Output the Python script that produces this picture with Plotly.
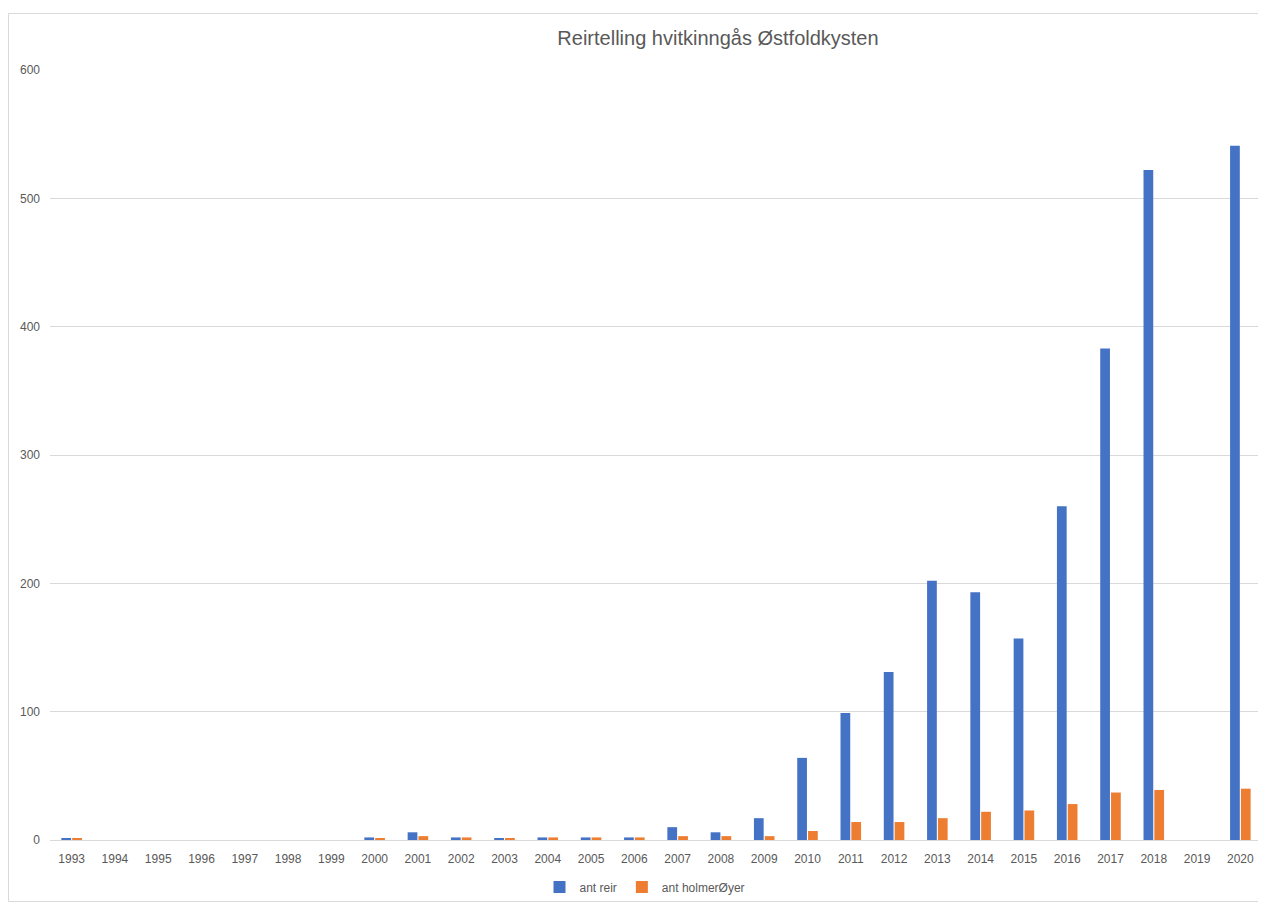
import plotly.graph_objects as go

years = [str(y) for y in range(1993, 2021)]
ant_reir = [1, 0, 0, 0, 0, 0, 0, 2, 6, 2, 1, 2, 2, 2, 10, 6, 17, 64, 99, 131, 202, 193, 157, 260, 383, 522, 0, 541]
ant_holmer = [1, 0, 0, 0, 0, 0, 0, 1, 3, 2, 1, 2, 2, 2, 3, 3, 3, 7, 14, 14, 17, 22, 23, 28, 37, 39, 0, 40]
y_ticks = [0, 100, 200, 300, 400, 500, 600]

# page body has an 8px margin; work in figure coordinates = reference - 8
OFF = 8
W, H = 1266 - OFF, 902 - OFF
L, T = 50 - OFF, 70 - OFF
R = W - (1262 - OFF)
B = H - (840 - OFF)
pw, ph = W - L - R, H - T - B

font = "Liberation Sans, Arial, sans-serif"
grey = "#595959"

def px(x):
    return (x - OFF - L) / pw

def py(y):
    return (840 - y) / ph

fig = go.Figure()
fig.add_trace(go.Bar(x=years, y=ant_reir, name="ant reir", marker=dict(color="#4472C4", line=dict(width=0))))
fig.add_trace(go.Bar(x=years, y=ant_holmer, name="ant holmerØyer", marker=dict(color="#ED7D31", line=dict(width=0))))

fig.update_layout(
    width=W, height=H,
    margin=dict(l=L, r=R, t=T, b=B, autoexpand=False),
    paper_bgcolor="white", plot_bgcolor="white",
    barmode="group", bargap=0.5, bargroupgap=0.1,
    font=dict(family=font, size=12, color=grey),
    title=dict(text="Reirtelling hvitkinngås Østfoldkysten", font=dict(family=font, size=20, color=grey),
               xref="paper", x=px(718), xanchor="center", yref="container", y=1 - (38 - OFF) / H, yanchor="middle"),
    legend=dict(orientation="h", xanchor="center", x=px(645), yanchor="middle", y=py(887),
                font=dict(size=12, color=grey), bgcolor="rgba(0,0,0,0)", traceorder="normal"),
    xaxis=dict(type="category", showgrid=False, showline=True, linecolor="#d9d9d9", linewidth=1,
               ticks="", tickfont=dict(size=12, color=grey), tickangle=0, ticklabelstandoff=8),
    yaxis=dict(range=[0, 600], tickvals=y_ticks, showgrid=True, gridcolor="#d9d9d9", gridwidth=1,
               zeroline=False, showline=False, ticks="", tickfont=dict(size=12, color=grey), ticklabelstandoff=9),
    shapes=[dict(type="rect", xref="paper", yref="paper",
                 x0=px(8.5), x1=px(1265.5), y0=py(901.5), y1=py(13.5),
                 line=dict(color="#d9d9d9", width=1), fillcolor="rgba(0,0,0,0)", layer="below")],
)

fig.write_html("out.html")
